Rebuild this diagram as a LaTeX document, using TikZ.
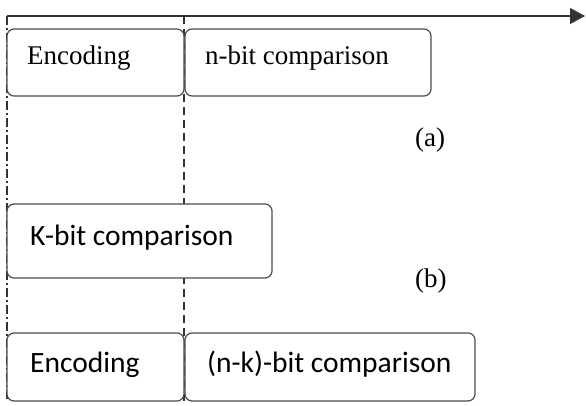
\documentclass[tikz,border=0pt]{standalone}
\usepackage{fontspec}
\setmainfont{Liberation Serif}
\newfontfamily\calib{Carlito}
\usetikzlibrary{arrows.meta}
\begin{document}
\begin{tikzpicture}[x=1pt,y=-1pt,
  blk/.style={draw=black!70,line width=1.2pt,rounded corners=7pt},
  sertxt/.style={anchor=base west,inner sep=0pt,font=\fontsize{27}{30}\selectfont},
  santxt/.style={anchor=base west,inner sep=0pt,font=\calib\fontsize{29.5}{32}\selectfont},
  axisline/.style={draw=black!80,line width=1.2pt}]
\useasboundingbox (0,0) rectangle (586,405);
% axis and guide lines
\coordinate (o) at (7,16);
\coordinate (tip) at (585,16);
\coordinate (d0) at (184,16);
\coordinate (lb) at (7,401);
\coordinate (db) at (184,401);
\draw[axisline,-{Triangle[length=15pt,width=16pt]}] (o) -- (tip);
\draw[axisline,dash pattern=on 9pt off 3pt on 2pt off 3pt] (o) -- (lb);
\draw[axisline,dash pattern=on 8pt off 5pt] (d0) -- (db);
% (a) row
\filldraw[blk,fill=white] (7,29) rectangle (184,96);
\filldraw[blk,fill=white] (185,29) rectangle (431,96);
\node[sertxt] (enc1) at (27,64) {Encoding};
\node[sertxt] (nbit) at (205,64) {n-bit comparison};
\node[sertxt] (la) at (415,146) {(a)};
% (b) rows
\filldraw[blk,fill=white] (7,204) rectangle (272,278);
\node[santxt] (kbit) at (30,245) {K-bit comparison};
\node[sertxt] (lb2) at (415,287) {(b)};
\filldraw[blk,fill=white] (7,333) rectangle (184,401);
\filldraw[blk,fill=white] (185,333) rectangle (475,401);
\node[santxt] (enc2) at (30,372) {Encoding};
\node[santxt] (nkbit) at (207,372) {(n-k)-bit comparison};
\end{tikzpicture}
\end{document}
